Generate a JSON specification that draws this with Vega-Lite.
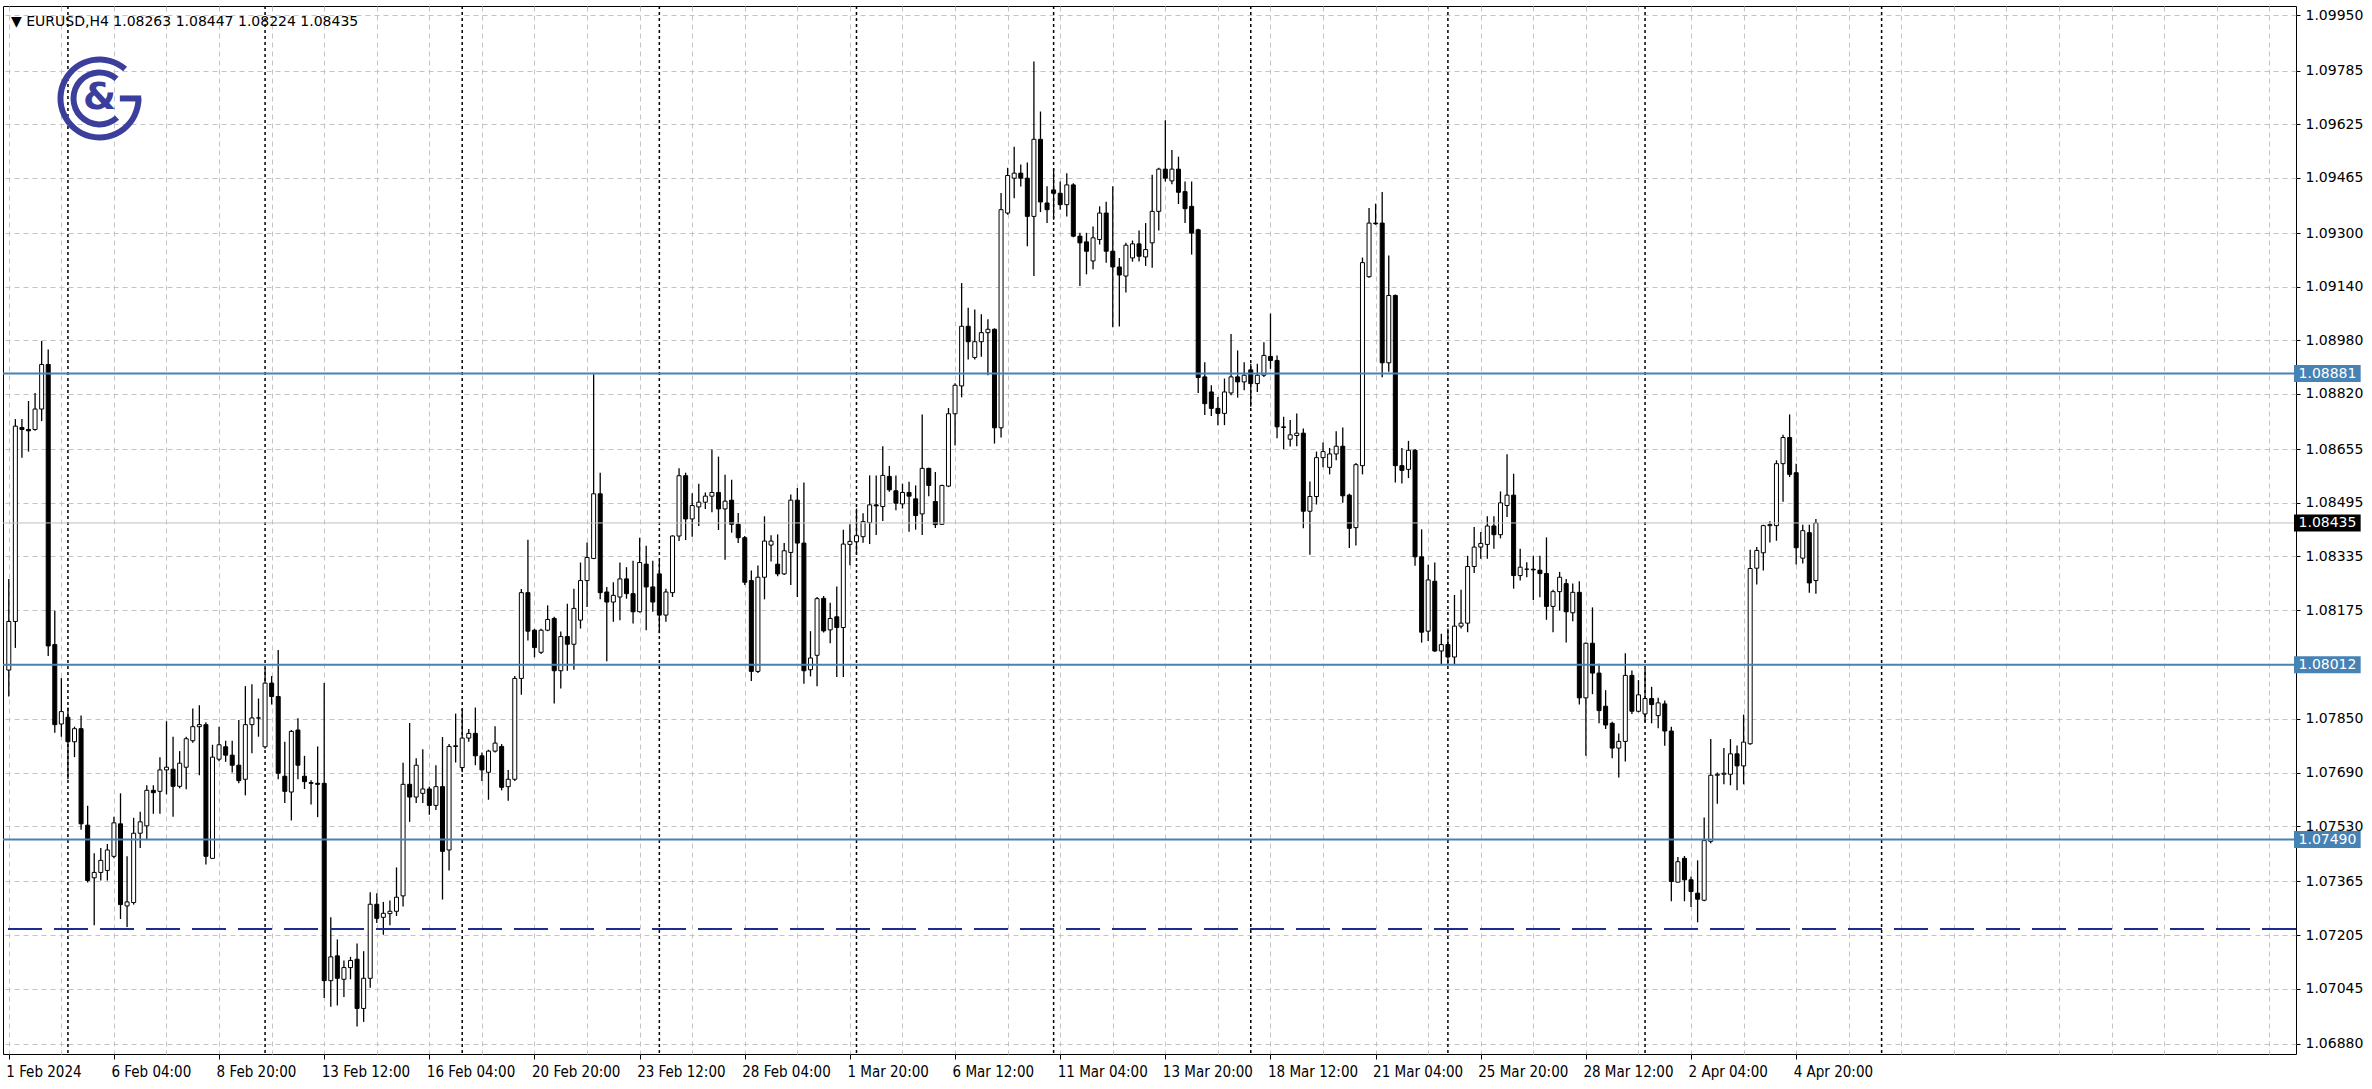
{
"$schema":"https://vega.github.io/schema/vega-lite/v6.json",
"width":2293,"height":1048,
"autosize":{"type":"none"},
"padding":{"left":3,"top":6,"right":76,"bottom":35},
"background":"#ffffff",
"config":{"view":{"stroke":"#000000","strokeWidth":1},"axis":{"labelFont":"DejaVu Sans"}},
"title":{"text":"▼ EURUSD,H4  1.08263 1.08447 1.08224 1.08435","anchor":"start","frame":"group","orient":"top","offset":-14,"dy":17,"baseline":"middle","fontSize":14,"fontWeight":"normal","font":"DejaVu Sans","color":"#000000","dx":8},
"datasets":{
"candles":[
{"t":0,"o":1.07996,"h":1.08268,"l":1.07917,"c":1.08141},
{"t":1,"o":1.08141,"h":1.08745,"l":1.08062,"c":1.08724},
{"t":2,"o":1.0872,"h":1.08745,"l":1.0863,"c":1.08714},
{"t":3,"o":1.08714,"h":1.08799,"l":1.08648,"c":1.0871},
{"t":4,"o":1.08714,"h":1.08823,"l":1.0871,"c":1.08775},
{"t":5,"o":1.08775,"h":1.08978,"l":1.08739,"c":1.08908},
{"t":6,"o":1.08908,"h":1.08953,"l":1.08038,"c":1.08068},
{"t":7,"o":1.08072,"h":1.08173,"l":1.07809,"c":1.07833},
{"t":8,"o":1.07835,"h":1.07972,"l":1.07797,"c":1.07872},
{"t":9,"o":1.07855,"h":1.07884,"l":1.0767,"c":1.07782},
{"t":10,"o":1.07782,"h":1.07827,"l":1.07736,"c":1.07821},
{"t":11,"o":1.07821,"h":1.0786,"l":1.07519,"c":1.07537},
{"t":12,"o":1.07533,"h":1.07591,"l":1.07362,"c":1.07368},
{"t":13,"o":1.07376,"h":1.07449,"l":1.07234,"c":1.07392},
{"t":14,"o":1.07392,"h":1.07465,"l":1.07368,"c":1.07428},
{"t":15,"o":1.07398,"h":1.07477,"l":1.07368,"c":1.07459},
{"t":16,"o":1.0744,"h":1.07558,"l":1.07434,"c":1.0754},
{"t":17,"o":1.07537,"h":1.07628,"l":1.07253,"c":1.07296},
{"t":18,"o":1.07292,"h":1.0744,"l":1.07229,"c":1.07304},
{"t":19,"o":1.07302,"h":1.07555,"l":1.07296,"c":1.07509},
{"t":20,"o":1.07509,"h":1.07573,"l":1.07465,"c":1.07543},
{"t":21,"o":1.07531,"h":1.07652,"l":1.07489,"c":1.07637},
{"t":22,"o":1.07637,"h":1.07652,"l":1.07567,"c":1.0763},
{"t":23,"o":1.07634,"h":1.07736,"l":1.07567,"c":1.07698},
{"t":24,"o":1.07698,"h":1.07843,"l":1.07625,"c":1.07706},
{"t":25,"o":1.077,"h":1.07797,"l":1.07558,"c":1.07649},
{"t":26,"o":1.07649,"h":1.07754,"l":1.07643,"c":1.07718},
{"t":27,"o":1.07706,"h":1.07797,"l":1.0764,"c":1.07791},
{"t":28,"o":1.07785,"h":1.07881,"l":1.07779,"c":1.07827},
{"t":29,"o":1.07827,"h":1.07891,"l":1.07682,"c":1.07833},
{"t":30,"o":1.07833,"h":1.0784,"l":1.07416,"c":1.0744},
{"t":31,"o":1.07434,"h":1.07773,"l":1.07434,"c":1.07736},
{"t":32,"o":1.0773,"h":1.07827,"l":1.07724,"c":1.07773},
{"t":33,"o":1.07767,"h":1.07785,"l":1.07722,"c":1.07742},
{"t":34,"o":1.07742,"h":1.07785,"l":1.0769,"c":1.07712},
{"t":35,"o":1.07712,"h":1.07847,"l":1.07658,"c":1.07666},
{"t":36,"o":1.0767,"h":1.07948,"l":1.07622,"c":1.07833},
{"t":37,"o":1.07833,"h":1.07954,"l":1.07748,"c":1.07853},
{"t":38,"o":1.07853,"h":1.07911,"l":1.07797,"c":1.07853},
{"t":39,"o":1.07767,"h":1.08002,"l":1.07761,"c":1.07957},
{"t":40,"o":1.07957,"h":1.07978,"l":1.07893,"c":1.07917},
{"t":41,"o":1.07917,"h":1.08056,"l":1.0767,"c":1.07688},
{"t":42,"o":1.07679,"h":1.07782,"l":1.07599,"c":1.07634},
{"t":43,"o":1.07632,"h":1.07817,"l":1.07547,"c":1.07813},
{"t":44,"o":1.07817,"h":1.07852,"l":1.0767,"c":1.07712},
{"t":45,"o":1.07679,"h":1.0774,"l":1.07641,"c":1.07663},
{"t":46,"o":1.0766,"h":1.07667,"l":1.07595,"c":1.07658},
{"t":47,"o":1.07658,"h":1.07768,"l":1.07557,"c":1.07655},
{"t":48,"o":1.07658,"h":1.07957,"l":1.07017,"c":1.07069},
{"t":49,"o":1.07069,"h":1.07258,"l":1.06991,"c":1.0714},
{"t":50,"o":1.07143,"h":1.07192,"l":1.06995,"c":1.07076},
{"t":51,"o":1.07073,"h":1.07129,"l":1.0702,"c":1.07108},
{"t":52,"o":1.07108,"h":1.0714,"l":1.07073,"c":1.07129},
{"t":53,"o":1.07133,"h":1.0718,"l":1.06932,"c":1.06986},
{"t":54,"o":1.06986,"h":1.07157,"l":1.06946,"c":1.07076},
{"t":55,"o":1.07076,"h":1.07333,"l":1.07048,"c":1.07297},
{"t":56,"o":1.07297,"h":1.0733,"l":1.07241,"c":1.07255},
{"t":57,"o":1.07258,"h":1.07304,"l":1.07206,"c":1.0727},
{"t":58,"o":1.07269,"h":1.07308,"l":1.07234,"c":1.07276},
{"t":59,"o":1.07276,"h":1.07407,"l":1.07262,"c":1.07318},
{"t":60,"o":1.07322,"h":1.07719,"l":1.0729,"c":1.07655},
{"t":61,"o":1.07655,"h":1.07838,"l":1.07543,"c":1.07617},
{"t":62,"o":1.07617,"h":1.07733,"l":1.07599,"c":1.07712},
{"t":63,"o":1.07628,"h":1.0776,"l":1.07599,"c":1.07641},
{"t":64,"o":1.07641,"h":1.07648,"l":1.07564,"c":1.07592},
{"t":65,"o":1.07592,"h":1.07712,"l":1.07578,"c":1.07648},
{"t":66,"o":1.07648,"h":1.07796,"l":1.07311,"c":1.07455},
{"t":67,"o":1.07459,"h":1.07775,"l":1.07398,"c":1.07768},
{"t":68,"o":1.07768,"h":1.07866,"l":1.0772,"c":1.0777},
{"t":69,"o":1.07705,"h":1.0788,"l":1.07691,"c":1.07793},
{"t":70,"o":1.07793,"h":1.0782,"l":1.07782,"c":1.07807},
{"t":71,"o":1.07807,"h":1.07884,"l":1.07712,"c":1.0774},
{"t":72,"o":1.0774,"h":1.0775,"l":1.07665,"c":1.07698},
{"t":73,"o":1.07691,"h":1.07758,"l":1.07609,"c":1.07754},
{"t":74,"o":1.07754,"h":1.07828,"l":1.0775,"c":1.07778},
{"t":75,"o":1.07768,"h":1.07775,"l":1.07637,"c":1.07646},
{"t":76,"o":1.07648,"h":1.07698,"l":1.07606,"c":1.0767},
{"t":77,"o":1.0767,"h":1.07978,"l":1.07665,"c":1.07971},
{"t":78,"o":1.07971,"h":1.08238,"l":1.07922,"c":1.08227},
{"t":79,"o":1.08227,"h":1.08385,"l":1.08084,"c":1.08112},
{"t":80,"o":1.08115,"h":1.08119,"l":1.08034,"c":1.08063},
{"t":81,"o":1.08049,"h":1.08119,"l":1.08044,"c":1.08115},
{"t":82,"o":1.08115,"h":1.08189,"l":1.08112,"c":1.08147},
{"t":83,"o":1.0815,"h":1.08155,"l":1.07896,"c":1.07994},
{"t":84,"o":1.07994,"h":1.08111,"l":1.07941,"c":1.08096},
{"t":85,"o":1.08096,"h":1.08194,"l":1.07994,"c":1.08073},
{"t":86,"o":1.08073,"h":1.08239,"l":1.07997,"c":1.0818},
{"t":87,"o":1.08145,"h":1.08317,"l":1.0812,"c":1.08263},
{"t":88,"o":1.08263,"h":1.08377,"l":1.08184,"c":1.08332},
{"t":89,"o":1.08329,"h":1.08879,"l":1.08327,"c":1.08522},
{"t":90,"o":1.08522,"h":1.08585,"l":1.08207,"c":1.08227},
{"t":91,"o":1.08229,"h":1.08244,"l":1.08022,"c":1.08199},
{"t":92,"o":1.08199,"h":1.08258,"l":1.0814,"c":1.08219},
{"t":93,"o":1.08214,"h":1.08317,"l":1.08145,"c":1.08268},
{"t":94,"o":1.08268,"h":1.08303,"l":1.08209,"c":1.08224},
{"t":95,"o":1.08224,"h":1.08322,"l":1.08135,"c":1.0817},
{"t":96,"o":1.0817,"h":1.08391,"l":1.08168,"c":1.08317},
{"t":97,"o":1.08312,"h":1.08367,"l":1.08115,"c":1.08244},
{"t":98,"o":1.08244,"h":1.08322,"l":1.0817,"c":1.08199},
{"t":99,"o":1.08283,"h":1.08322,"l":1.08106,"c":1.0816},
{"t":100,"o":1.0816,"h":1.08239,"l":1.0814,"c":1.08229},
{"t":101,"o":1.08227,"h":1.08398,"l":1.08214,"c":1.08396},
{"t":102,"o":1.08396,"h":1.08598,"l":1.08381,"c":1.08576},
{"t":103,"o":1.08576,"h":1.08585,"l":1.08384,"c":1.08447},
{"t":104,"o":1.08447,"h":1.08524,"l":1.08394,"c":1.08487},
{"t":105,"o":1.08483,"h":1.08552,"l":1.08426,"c":1.08497},
{"t":106,"o":1.08497,"h":1.08526,"l":1.08477,"c":1.08515},
{"t":107,"o":1.08515,"h":1.08654,"l":1.08467,"c":1.08526},
{"t":108,"o":1.08526,"h":1.08633,"l":1.08414,"c":1.08477},
{"t":109,"o":1.08477,"h":1.08579,"l":1.08325,"c":1.085},
{"t":110,"o":1.08503,"h":1.08564,"l":1.08406,"c":1.08431},
{"t":111,"o":1.08431,"h":1.08465,"l":1.08375,"c":1.08391},
{"t":112,"o":1.08391,"h":1.08396,"l":1.0825,"c":1.08258},
{"t":113,"o":1.08263,"h":1.08293,"l":1.07963,"c":1.07992},
{"t":114,"o":1.07992,"h":1.08308,"l":1.07987,"c":1.08273},
{"t":115,"o":1.08273,"h":1.08455,"l":1.08207,"c":1.08381},
{"t":116,"o":1.08369,"h":1.08398,"l":1.0832,"c":1.08381},
{"t":117,"o":1.08312,"h":1.08401,"l":1.08276,"c":1.08283},
{"t":118,"o":1.08283,"h":1.08375,"l":1.0828,"c":1.08352},
{"t":119,"o":1.08347,"h":1.0852,"l":1.0825,"c":1.08503},
{"t":120,"o":1.08503,"h":1.08539,"l":1.08214,"c":1.08375},
{"t":121,"o":1.08375,"h":1.08556,"l":1.07955,"c":1.07994},
{"t":122,"o":1.07997,"h":1.08112,"l":1.07977,"c":1.08032},
{"t":123,"o":1.0804,"h":1.08214,"l":1.07948,"c":1.08209},
{"t":124,"o":1.0821,"h":1.08217,"l":1.08108,"c":1.08113},
{"t":125,"o":1.08116,"h":1.08197,"l":1.08076,"c":1.0815},
{"t":126,"o":1.08155,"h":1.08245,"l":1.07975,"c":1.08123},
{"t":127,"o":1.08123,"h":1.08415,"l":1.07975,"c":1.08372},
{"t":128,"o":1.08371,"h":1.08431,"l":1.08309,"c":1.0838},
{"t":129,"o":1.08379,"h":1.08478,"l":1.08341,"c":1.08397},
{"t":130,"o":1.08394,"h":1.08464,"l":1.08376,"c":1.08439},
{"t":131,"o":1.08436,"h":1.08577,"l":1.08372,"c":1.08489},
{"t":132,"o":1.08489,"h":1.08577,"l":1.08399,"c":1.08486},
{"t":133,"o":1.08484,"h":1.08664,"l":1.08441,"c":1.08577},
{"t":134,"o":1.08574,"h":1.08605,"l":1.08528,"c":1.08534},
{"t":135,"o":1.08531,"h":1.08577,"l":1.08473,"c":1.08494},
{"t":136,"o":1.08492,"h":1.08552,"l":1.08478,"c":1.08526},
{"t":137,"o":1.08526,"h":1.08558,"l":1.08409,"c":1.08515},
{"t":138,"o":1.08507,"h":1.08547,"l":1.08415,"c":1.08457},
{"t":139,"o":1.08462,"h":1.08759,"l":1.08399,"c":1.08598},
{"t":140,"o":1.08598,"h":1.086,"l":1.08515,"c":1.08547},
{"t":141,"o":1.08499,"h":1.08587,"l":1.0842,"c":1.0843},
{"t":142,"o":1.08431,"h":1.08549,"l":1.0843,"c":1.08547},
{"t":143,"o":1.08545,"h":1.08778,"l":1.08542,"c":1.08761},
{"t":144,"o":1.08761,"h":1.08852,"l":1.08666,"c":1.08846},
{"t":145,"o":1.08844,"h":1.09151,"l":1.0881,"c":1.09022},
{"t":146,"o":1.09022,"h":1.09077,"l":1.08923,"c":1.08976},
{"t":147,"o":1.08929,"h":1.09072,"l":1.08923,"c":1.08976},
{"t":148,"o":1.08976,"h":1.09058,"l":1.08931,"c":1.09003},
{"t":149,"o":1.09003,"h":1.09043,"l":1.08876,"c":1.09013},
{"t":150,"o":1.09013,"h":1.09016,"l":1.08672,"c":1.08719},
{"t":151,"o":1.08719,"h":1.0942,"l":1.0869,"c":1.0937},
{"t":152,"o":1.0936,"h":1.09495,"l":1.09355,"c":1.09472},
{"t":153,"o":1.09464,"h":1.09558,"l":1.09404,"c":1.09479},
{"t":154,"o":1.09479,"h":1.09505,"l":1.09439,"c":1.09464},
{"t":155,"o":1.09464,"h":1.09511,"l":1.09261,"c":1.0935},
{"t":156,"o":1.0935,"h":1.09812,"l":1.09172,"c":1.0958},
{"t":157,"o":1.0958,"h":1.09663,"l":1.09363,"c":1.09393},
{"t":158,"o":1.0939,"h":1.0944,"l":1.0933,"c":1.0937},
{"t":159,"o":1.09429,"h":1.09493,"l":1.0934,"c":1.09419},
{"t":160,"o":1.09419,"h":1.09454,"l":1.0937,"c":1.09385},
{"t":161,"o":1.09385,"h":1.09479,"l":1.0935,"c":1.09444},
{"t":162,"o":1.09444,"h":1.09449,"l":1.09288,"c":1.09291},
{"t":163,"o":1.09291,"h":1.09301,"l":1.09142,"c":1.09271},
{"t":164,"o":1.09274,"h":1.09301,"l":1.09177,"c":1.09246},
{"t":165,"o":1.09217,"h":1.0932,"l":1.09192,"c":1.09286},
{"t":166,"o":1.09281,"h":1.0938,"l":1.09266,"c":1.0936},
{"t":167,"o":1.0936,"h":1.09394,"l":1.09212,"c":1.09246},
{"t":168,"o":1.09246,"h":1.0944,"l":1.09019,"c":1.09199},
{"t":169,"o":1.09199,"h":1.09226,"l":1.09021,"c":1.09175},
{"t":170,"o":1.09172,"h":1.09271,"l":1.09123,"c":1.09264},
{"t":171,"o":1.09226,"h":1.09278,"l":1.09215,"c":1.09268},
{"t":172,"o":1.09268,"h":1.09308,"l":1.09215,"c":1.09231},
{"t":173,"o":1.09229,"h":1.0933,"l":1.09202,"c":1.09251},
{"t":174,"o":1.09271,"h":1.09474,"l":1.09197,"c":1.09365},
{"t":175,"o":1.09365,"h":1.09495,"l":1.09308,"c":1.09491},
{"t":176,"o":1.09491,"h":1.09637,"l":1.09454,"c":1.09464},
{"t":177,"o":1.09456,"h":1.09548,"l":1.09446,"c":1.09491},
{"t":178,"o":1.09491,"h":1.09528,"l":1.09387,"c":1.09422},
{"t":179,"o":1.09424,"h":1.09454,"l":1.0933,"c":1.09373},
{"t":180,"o":1.0938,"h":1.09454,"l":1.09236,"c":1.093},
{"t":181,"o":1.0931,"h":1.09313,"l":1.08823,"c":1.08869},
{"t":182,"o":1.08871,"h":1.08915,"l":1.08757,"c":1.08791},
{"t":183,"o":1.08826,"h":1.08846,"l":1.08754,"c":1.08777},
{"t":184,"o":1.08777,"h":1.08811,"l":1.08727,"c":1.08762},
{"t":185,"o":1.08762,"h":1.08866,"l":1.08727,"c":1.08826},
{"t":186,"o":1.08823,"h":1.08999,"l":1.08816,"c":1.08871},
{"t":187,"o":1.08871,"h":1.0895,"l":1.08809,"c":1.08856},
{"t":188,"o":1.08856,"h":1.08915,"l":1.08831,"c":1.08876},
{"t":189,"o":1.08892,"h":1.0891,"l":1.08782,"c":1.08851},
{"t":190,"o":1.08851,"h":1.0891,"l":1.08826,"c":1.08876},
{"t":191,"o":1.08876,"h":1.08974,"l":1.08871,"c":1.08935},
{"t":192,"o":1.08932,"h":1.0906,"l":1.08895,"c":1.0892},
{"t":193,"o":1.0892,"h":1.08935,"l":1.08688,"c":1.08722},
{"t":194,"o":1.0872,"h":1.08752,"l":1.08655,"c":1.08722},
{"t":195,"o":1.08685,"h":1.08742,"l":1.08663,"c":1.08698},
{"t":196,"o":1.08696,"h":1.08762,"l":1.08664,"c":1.08703},
{"t":197,"o":1.08703,"h":1.08717,"l":1.08419,"c":1.0847},
{"t":198,"o":1.0847,"h":1.08559,"l":1.0834,"c":1.08514},
{"t":199,"o":1.08514,"h":1.08648,"l":1.0849,"c":1.0863},
{"t":200,"o":1.0863,"h":1.08675,"l":1.08601,"c":1.08648},
{"t":201,"o":1.08601,"h":1.08659,"l":1.0858,"c":1.08641},
{"t":202,"o":1.08641,"h":1.08709,"l":1.08622,"c":1.08664},
{"t":203,"o":1.08664,"h":1.0872,"l":1.08495,"c":1.08516},
{"t":204,"o":1.08518,"h":1.08522,"l":1.0836,"c":1.08419},
{"t":205,"o":1.08421,"h":1.08614,"l":1.08368,"c":1.08609},
{"t":206,"o":1.08606,"h":1.09227,"l":1.0858,"c":1.09212},
{"t":207,"o":1.0917,"h":1.09375,"l":1.09167,"c":1.0933},
{"t":208,"o":1.0933,"h":1.09388,"l":1.09325,"c":1.09328},
{"t":209,"o":1.0933,"h":1.09423,"l":1.0887,"c":1.08913},
{"t":210,"o":1.08913,"h":1.09233,"l":1.08886,"c":1.09114},
{"t":211,"o":1.09114,"h":1.09117,"l":1.08556,"c":1.08606},
{"t":212,"o":1.08606,"h":1.08659,"l":1.08553,"c":1.08592},
{"t":213,"o":1.08595,"h":1.0868,"l":1.08569,"c":1.08652},
{"t":214,"o":1.08652,"h":1.08656,"l":1.08307,"c":1.08334},
{"t":215,"o":1.08334,"h":1.08416,"l":1.08078,"c":1.08109},
{"t":216,"o":1.08112,"h":1.0831,"l":1.08083,"c":1.08265},
{"t":217,"o":1.08261,"h":1.08317,"l":1.0805,"c":1.08053},
{"t":218,"o":1.08053,"h":1.08104,"l":1.08014,"c":1.08072},
{"t":219,"o":1.08072,"h":1.0812,"l":1.08014,"c":1.08035},
{"t":220,"o":1.08035,"h":1.0822,"l":1.08014,"c":1.08127},
{"t":221,"o":1.08127,"h":1.08236,"l":1.0812,"c":1.08136},
{"t":222,"o":1.08136,"h":1.08337,"l":1.08109,"c":1.08305},
{"t":223,"o":1.08305,"h":1.08423,"l":1.08286,"c":1.08363},
{"t":224,"o":1.08363,"h":1.08408,"l":1.08328,"c":1.08374},
{"t":225,"o":1.08371,"h":1.08455,"l":1.08328,"c":1.08426},
{"t":226,"o":1.08426,"h":1.08455,"l":1.08358,"c":1.084},
{"t":227,"o":1.084,"h":1.08529,"l":1.08389,"c":1.08495},
{"t":228,"o":1.08487,"h":1.0864,"l":1.08453,"c":1.08518},
{"t":229,"o":1.08518,"h":1.08582,"l":1.08239,"c":1.08278},
{"t":230,"o":1.08278,"h":1.08358,"l":1.08263,"c":1.08303},
{"t":231,"o":1.08297,"h":1.08318,"l":1.08273,"c":1.08297},
{"t":232,"o":1.08297,"h":1.08337,"l":1.08205,"c":1.08295},
{"t":233,"o":1.08294,"h":1.08337,"l":1.08213,"c":1.08284},
{"t":234,"o":1.08284,"h":1.08392,"l":1.08146,"c":1.08186},
{"t":235,"o":1.08186,"h":1.08236,"l":1.08109,"c":1.0823},
{"t":236,"o":1.0823,"h":1.08289,"l":1.08173,"c":1.08273},
{"t":237,"o":1.08254,"h":1.08268,"l":1.08078,"c":1.0817},
{"t":238,"o":1.08167,"h":1.08254,"l":1.08142,"c":1.08228},
{"t":239,"o":1.08228,"h":1.08261,"l":1.07893,"c":1.07913},
{"t":240,"o":1.07913,"h":1.08078,"l":1.0774,"c":1.08076},
{"t":241,"o":1.08076,"h":1.08183,"l":1.07924,"c":1.07987},
{"t":242,"o":1.07987,"h":1.08015,"l":1.07837,"c":1.07875},
{"t":243,"o":1.07888,"h":1.07936,"l":1.0782,"c":1.07832},
{"t":244,"o":1.07837,"h":1.07842,"l":1.07733,"c":1.07763},
{"t":245,"o":1.07763,"h":1.07807,"l":1.07675,"c":1.07783},
{"t":246,"o":1.07783,"h":1.08046,"l":1.07723,"c":1.0798},
{"t":247,"o":1.0798,"h":1.07995,"l":1.07865,"c":1.07873},
{"t":248,"o":1.07873,"h":1.07966,"l":1.0787,"c":1.07922},
{"t":249,"o":1.07865,"h":1.08,"l":1.07842,"c":1.07911},
{"t":250,"o":1.07911,"h":1.07946,"l":1.07837,"c":1.07893},
{"t":251,"o":1.0786,"h":1.07913,"l":1.07822,"c":1.07898},
{"t":252,"o":1.07895,"h":1.07905,"l":1.0777,"c":1.07814},
{"t":253,"o":1.07814,"h":1.07827,"l":1.07306,"c":1.07365},
{"t":254,"o":1.07363,"h":1.07438,"l":1.07363,"c":1.07424},
{"t":255,"o":1.07434,"h":1.07441,"l":1.07306,"c":1.0737},
{"t":256,"o":1.0737,"h":1.0738,"l":1.07289,"c":1.07335},
{"t":257,"o":1.0733,"h":1.07428,"l":1.07243,"c":1.07312},
{"t":258,"o":1.07309,"h":1.07556,"l":1.07306,"c":1.07487},
{"t":259,"o":1.07485,"h":1.0779,"l":1.07479,"c":1.07682},
{"t":260,"o":1.07682,"h":1.0769,"l":1.07597,"c":1.07685},
{"t":261,"o":1.07685,"h":1.07763,"l":1.07655,"c":1.07688},
{"t":262,"o":1.07685,"h":1.0779,"l":1.07652,"c":1.07746},
{"t":263,"o":1.07746,"h":1.07771,"l":1.07637,"c":1.0771},
{"t":264,"o":1.0771,"h":1.07863,"l":1.07655,"c":1.07781},
{"t":265,"o":1.07776,"h":1.08355,"l":1.07773,"c":1.08299},
{"t":266,"o":1.083,"h":1.08363,"l":1.08251,"c":1.08353},
{"t":267,"o":1.08346,"h":1.0843,"l":1.08293,"c":1.08427},
{"t":268,"o":1.08427,"h":1.0844,"l":1.08377,"c":1.0843},
{"t":269,"o":1.08427,"h":1.08622,"l":1.08382,"c":1.08612},
{"t":270,"o":1.08612,"h":1.08698,"l":1.08498,"c":1.0869},
{"t":271,"o":1.0869,"h":1.08759,"l":1.08572,"c":1.0858},
{"t":272,"o":1.08585,"h":1.08612,"l":1.08311,"c":1.08361},
{"t":273,"o":1.0833,"h":1.0843,"l":1.08314,"c":1.08412},
{"t":274,"o":1.08406,"h":1.0843,"l":1.08227,"c":1.08256},
{"t":275,"o":1.08263,"h":1.08447,"l":1.08224,"c":1.08435}
],
"seps":[{"t":9},{"t":39},{"t":69},{"t":99},{"t":129},{"t":159},{"t":189},{"t":219},{"t":249},{"t":285}],
"tags":[{"p":1.08881,"label":"1.08881","kind":"level"},{"p":1.08012,"label":"1.08012","kind":"level"},{"p":1.0749,"label":"1.07490","kind":"level"},{"p":1.08435,"label":"1.08435","kind":"bid"}]
},
"layer":[
{"data":{"name":"seps"},"mark":{"type":"rule","color":"#000000","strokeWidth":1.5,"strokeDash":[3,3]},
 "encoding":{
  "x":{"field":"t","type":"quantitative","scale":{"domain":[-0.12,347.3],"nice":false,"zero":false},
   "axis":{"orient":"bottom","title":null,"values":[0,8,16,24,32,40,48,56,64,72,80,88,96,104,112,120,128,136,144,152,160,168,176,184,192,200,208,216,224,232,240,248,256,264,272,280,288,296,304,312,320,328,336,344],
    "labelExpr":"(datum.value % 16 === 0 && datum.value <= 272) ? ['1 Feb 2024','6 Feb 04:00','8 Feb 20:00','13 Feb 12:00','16 Feb 04:00','20 Feb 20:00','23 Feb 12:00','28 Feb 04:00','1 Mar 20:00','6 Mar 12:00','11 Mar 04:00','13 Mar 20:00','18 Mar 12:00','21 Mar 04:00','25 Mar 20:00','28 Mar 12:00','2 Apr 04:00','4 Apr 20:00'][datum.value / 16] : ''",
    "labelAlign":"left","labelBaseline":"top","labelPadding":5,"labelOffset":-3,"labelFont":"Liberation Sans Narrow, DejaVu Sans Condensed, Liberation Sans","labelFontSize":15,"labelColor":"#000000","labelOverlap":false,"labelFlush":false,
    "ticks":true,"tickSize":5,"tickColor":"#000000","tickOpacity":{"condition":{"test":"datum.value % 16 === 0 && datum.value <= 272","value":1},"value":0},
    "domain":false,"grid":true,"gridColor":"#c4c4c4","gridDash":[5,4],"gridWidth":1}}
 }},
{"data":{"name":"candles"},"mark":{"type":"rule","color":"#000000","strokeWidth":1.3},
 "encoding":{"x":{"field":"t","type":"quantitative","title":null},
  "y":{"field":"l","type":"quantitative","scale":{"domain":[1.06865,1.09963],"nice":false,"zero":false},
   "axis":{"orient":"right","title":null,"values":[1.0995,1.09785,1.09625,1.09465,1.093,1.0914,1.0898,1.0882,1.08655,1.08495,1.08335,1.08175,1.0785,1.0769,1.0753,1.07365,1.07205,1.07045,1.0688],
    "format":".5f","labelFont":"DejaVu Sans","labelFontSize":14,"labelColor":"#000000","labelPadding":5,"labelOverlap":false,"labelBaseline":"middle",
    "ticks":true,"tickSize":4,"tickColor":"#000000","domain":false,"grid":true,"gridColor":"#c4c4c4","gridDash":[5,4],"gridWidth":1}},
  "y2":{"field":"h"}}},
{"data":{"name":"candles"},"mark":{"type":"bar","width":4,"stroke":"#000000","strokeWidth":1},
 "encoding":{"x":{"field":"t","type":"quantitative","title":null},"y":{"field":"o","type":"quantitative","title":null},"y2":{"field":"c"},
  "fill":{"condition":{"test":"datum.c >= datum.o","value":"#ffffff"},"value":"#000000"}}},
{"data":{"values":[{"p":1.08435}]},"mark":{"type":"rule","color":"#c0c0c0","strokeWidth":1},
 "encoding":{"y":{"field":"p","type":"quantitative","title":null}}},
{"data":{"values":[{"p":1.08881},{"p":1.08012},{"p":1.0749}]},"mark":{"type":"rule","color":"#4682b4","strokeWidth":2},
 "encoding":{"y":{"field":"p","type":"quantitative","title":null}}},
{"data":{"values":[{"p":1.07223}]},"mark":{"type":"rule","color":"#1f2b8f","strokeWidth":2,"strokeDash":[34,12]},
 "encoding":{"y":{"field":"p","type":"quantitative","title":null}}},
{"data":{"name":"tags"},"mark":{"type":"bar","height":17,"clip":false},
 "encoding":{"x":{"datum":347.76,"type":"quantitative"},"x2":{"datum":357.9},"y":{"field":"p","type":"quantitative","title":null},
  "color":{"condition":{"test":"datum.kind === 'bid'","value":"#000000"},"value":"#4682b4"}}},
{"data":{"name":"tags"},"mark":{"type":"text","clip":false,"color":"#ffffff","font":"DejaVu Sans","fontSize":14,"align":"center","baseline":"middle"},
 "encoding":{"x":{"datum":352.85,"type":"quantitative"},"y":{"field":"p","type":"quantitative","title":null},"text":{"field":"label"}}},
{"data":{"values":[{"part":"outer"}]},"mark":{"type":"arc","radius":42,"radius2":36,"theta":1.57,"theta2":7.0,"color":"#3b3f9b"},
 "encoding":{"x":{"datum":13.8,"type":"quantitative"},"y":{"datum":1.09702,"type":"quantitative"}}},
{"data":{"values":[{"part":"bar"}]},"mark":{"type":"rule","strokeWidth":6,"color":"#3b3f9b"},
 "encoding":{"x":{"datum":16.9,"type":"quantitative"},"x2":{"datum":20.15},"y":{"datum":1.09702,"type":"quantitative"}}},
{"data":{"values":[{"part":"inner"}]},"mark":{"type":"arc","radius":29,"radius2":23,"theta":2.4,"theta2":7.0,"color":"#3b3f9b"},
 "encoding":{"x":{"datum":13.8,"type":"quantitative"},"y":{"datum":1.09702,"type":"quantitative"}}},
{"data":{"values":[{"s":"&"}]},"mark":{"type":"text","font":"DejaVu Sans","fontWeight":"bold","fontSize":38,"color":"#3b3f9b","align":"center","baseline":"middle"},
 "encoding":{"x":{"datum":13.8,"type":"quantitative"},"y":{"datum":1.09702,"type":"quantitative"},"text":{"field":"s"}}}
]
}
